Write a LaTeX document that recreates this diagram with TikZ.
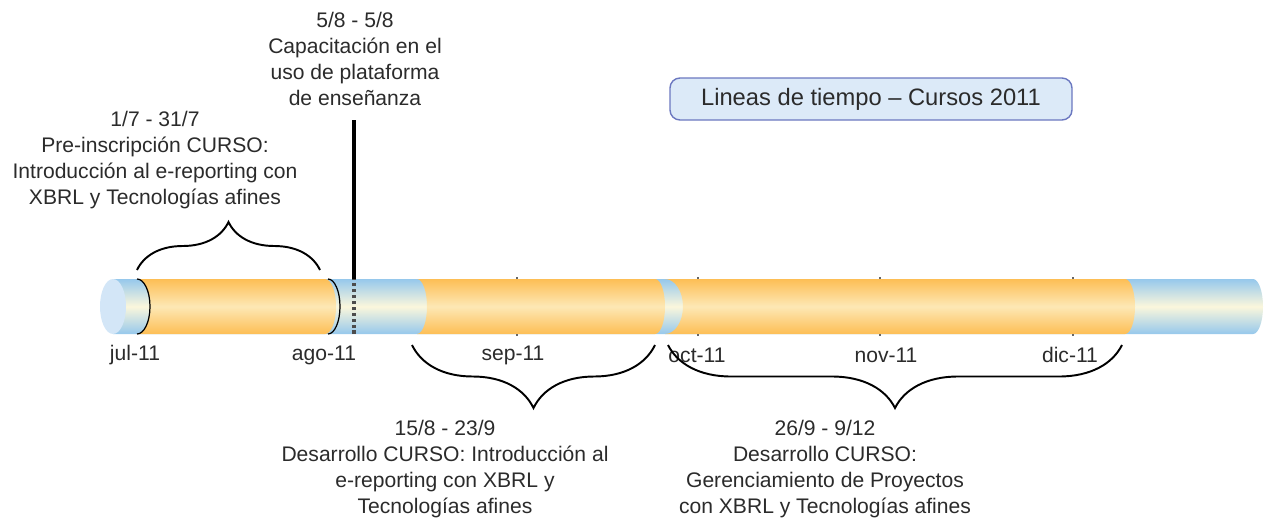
\documentclass[tikz,border=0pt]{standalone}
\usepackage{fontspec}
\setmainfont{Liberation Sans}
\usetikzlibrary{decorations.pathreplacing}

\definecolor{tubeblue}{HTML}{96C8EC}
\definecolor{tubecream}{HTML}{FBF7DC}
\definecolor{capblue}{HTML}{D3E6F7}
\definecolor{segorange}{HTML}{FDBE55}
\definecolor{segcream}{HTML}{FDE8B5}
\definecolor{titlefill}{HTML}{DCEAF8}
\definecolor{titleline}{HTML}{6B78C0}
\definecolor{txt}{HTML}{2B2B2B}

\newcommand{\orangeseg}[4]{%
  \shade[top color=segorange, bottom color=segorange, middle color=segcream]
    (#1,242) arc[start angle=90, end angle=-90, x radius=#2, y radius=5.5mm]
    -- (#3,187) arc[start angle=-90, end angle=90, x radius=#4, y radius=5.5mm]
    -- cycle;}

\tikzset{
  lbl/.style={font=\fontsize{12}{14.8}\selectfont, text=txt, align=center, inner sep=0pt},
  mes/.style={font=\fontsize{12}{14}\selectfont, text=txt, inner sep=0pt},
  llave/.style={decorate, line width=1.1pt},
  tick/.style={black!60, line width=0.8pt}
}

\begin{document}
\begin{tikzpicture}[x=0.2mm, y=0.2mm]
  \useasboundingbox (0,0) rectangle (1270,521);

  \shade[top color=tubeblue, bottom color=tubeblue, middle color=tubecream]
    (113,187) -- (1253,187) arc[start angle=-90, end angle=90, x radius=2mm, y radius=5.5mm]
    -- (113,242) -- cycle;
  \fill[capblue] (113,214.5) ellipse [x radius=2.6mm, y radius=5.5mm];

  \orangeseg{137}{2.6mm}{325}{2.2mm}
  \orangeseg{417}{2mm}{655}{2mm}
  \orangeseg{665}{3.6mm}{1125}{2mm}
  \draw[line width=0.7pt] (137,242) arc[start angle=90, end angle=-90, x radius=2.6mm, y radius=5.5mm];
  \draw[line width=0.7pt] (328,242) arc[start angle=90, end angle=-90, x radius=2.4mm, y radius=5.5mm];

  \foreach \x in {517,698,880,1073} {
    \draw[tick] (\x,242) -- (\x,244);
    \draw[tick] (\x,185) -- (\x,187);
  }

  \coordinate (marcaTop) at (354,401);
  \coordinate (marcaMid) at (354,242);
  \coordinate (marcaBot) at (354,187);
  \draw[line width=2.4pt] (marcaMid) -- (marcaTop);
  \draw[line width=2.2pt, black!70, dash pattern=on 2pt off 1.4pt] (marcaBot) -- (marcaMid);

  \node[mes] (jul) at (135,166) {jul-11};
  \node[mes] (ago) at (324,166) {ago-11};
  \node[mes] (sep) at (513,166) {sep-11};
  \node[mes] (oct) at (697,166) {oct-11};
  \node[mes] (nov) at (886,166) {nov-11};
  \node[mes] (dic) at (1070,166) {dic-11};

  \coordinate (preA) at (137,251);
  \coordinate (preB) at (320,251);
  \coordinate (desA) at (655,176);
  \coordinate (desB) at (412,176);
  \coordinate (gerA) at (1122,176);
  \coordinate (gerB) at (668,176);
  \draw[llave, decoration={brace, amplitude=9.6mm}] (preA) -- (preB);
  \draw[llave, decoration={brace, amplitude=12.6mm}] (desA) -- (desB);
  \draw[llave, decoration={brace, amplitude=12.6mm}] (gerA) -- (gerB);

  \node[lbl] (capa) at (355,462) {5/8 - 5/8\\Capacitación en el\\uso de plataforma\\de enseñanza};
  \node[lbl] (preins) at (155,361) {1/7 - 31/7\\Pre-inscripción CURSO:\\Introducción al e-reporting con\\XBRL y Tecnologías afines};
  \node[lbl] (desarr) at (445,52) {15/8 - 23/9\\Desarrollo CURSO: Introducción al\\e-reporting con XBRL y\\Tecnologías afines};
  \node[lbl] (gerenc) at (825,52) {26/9 - 9/12\\Desarrollo CURSO:\\Gerenciamiento de Proyectos\\con XBRL y Tecnologías afines};

  \node[draw=titleline, fill=titlefill, line width=0.8pt, rounded corners=2mm,
        minimum width=80.4mm, minimum height=8.4mm, text=txt,
        font=\fontsize{13.5}{16}\selectfont] (titulo) at (871,422) {Lineas de tiempo -- Cursos 2011};
\end{tikzpicture}
\end{document}
